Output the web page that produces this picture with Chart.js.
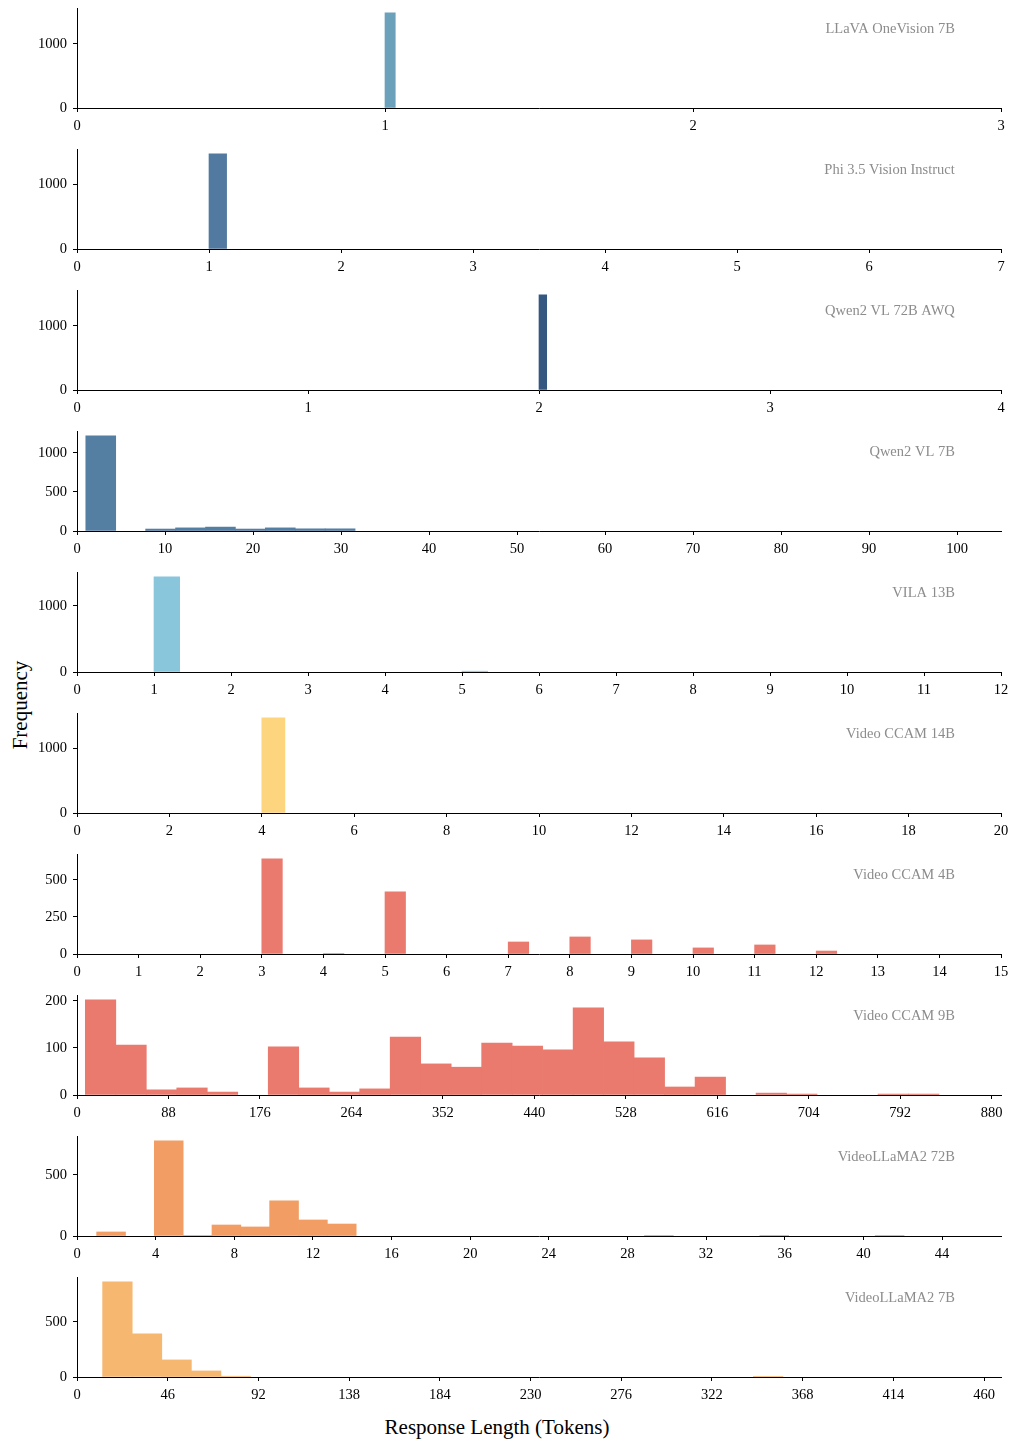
<!DOCTYPE html>
<html>
<head>
<meta charset="utf-8">
<script src="https://cdn.jsdelivr.net/npm/chart.js@4.4.1/dist/chart.umd.min.js"></script>
<style>
  body { margin: 0; background: #fff; width: 1014px; height: 1441px; position: relative; overflow: hidden;
         font-family: "Liberation Serif", "DejaVu Serif", serif; }
  canvas { position: absolute; left: 0; }
  #ylab { position: absolute; left: 20px; top: 705px; transform: translate(-50%, -50%) rotate(-90deg);
          font-size: 21px; white-space: nowrap; color: #000; }
  #xlab { position: absolute; left: 497px; top: 1427px; transform: translate(-50%, -50%);
          font-size: 21px; white-space: nowrap; color: #000; }
</style>
</head>
<body>
<div id="ylab">Frequency</div>
<div id="xlab">Response Length (Tokens)</div>
<script>
// model names, one panel each
const models = ['LLaVA OneVision 7B', 'Phi 3.5 Vision Instruct', 'Qwen2 VL 72B AWQ', 'Qwen2 VL 7B', 'VILA 13B',
                'Video CCAM 14B', 'Video CCAM 4B', 'Video CCAM 9B', 'VideoLLaMA2 72B', 'VideoLLaMA2 7B'];

// histogram bins: first edge and bin width for each model
const binStart = [0.5, 1, 1.5, 1, 1, 4, 3, 8, 1, 13];
const binWidth = [1/30, 4/30, 1/30, 3.4, 10/30, 0.5, 10/30, 880/30, 44/30, 15];

// counts per bin
const llavaOV7B  = [0,0,0,0,0,0,0,0,0,0,0,0,0,0,0,1484,0,0,0,0,0,0,0,0,0,0,0,0,0,0];
const phi35      = [1478,0,0,0,0,0,0,0,0,0,0,0,0,0,0,0,0,0,0,0,0,0,0,0,0,0,0,0,0,0];
const qwen72awq  = [0,0,0,0,0,0,0,0,0,0,0,0,0,0,0,1484,0,0,0,0,0,0,0,0,0,0,0,0,0,0];
const qwen7      = [1218,0,25,40,50,25,40,28,28,0];
const vila13     = [1440,0,0,0,0,0,0,0,0,0,0,0,12,0,0,0,0,0,0,0,0,0,0,0,0,0,0,0,0,0];
const ccam14     = [1476,0,0,0,0,0,0,0,0,0,0,0,0,0,0,0,0,0,0,0,0,0,0,0,0,0,0,0,0,0];
const ccam4      = [642,0,0,3,0,0,419,0,0,0,0,0,81,0,0,115,0,0,95,0,0,41,0,0,61,0,0,20,0,0];
const ccam9      = [202,106,11,15,6,0,102,15,6,13,123,66,59,110,104,96,185,113,79,17,38,0,4,2,0,0,2,2,0,0];
const vllama72   = [33,0,779,5,90,74,287,131,98,0,0,0,0,0,0,0,0,0,0,3,0,0,0,3,0,0,0,3,0,0];
const vllama7    = [864,391,155,55,7,0,0,0,0,0,0,0,0,0,0,0,0,0,0,0,0,0,3,0,0,0,0,0,0,0];
const counts = [llavaOV7B, phi35, qwen72awq, qwen7, vila13, ccam14, ccam4, ccam9, vllama72, vllama7];

// axis limits and tick steps
const xMax  = [3, 7, 4, 105, 12, 20, 15, 889, 47, 468.6];
const xStep = [1, 1, 1, 10, 1, 2, 1, 88, 4, 46];
const yStep = [1000, 1000, 1000, 500, 1000, 1000, 250, 100, 500, 500];

const colors = ['#6ba1ba', '#52799f', '#355880', '#557ea3', '#8ac6db',
                '#fed57f', '#ea7a6e', '#ea7a6e', '#f19d63', '#f6b870'];

const serif = '"Liberation Serif", "DejaVu Serif", serif';

const nameLabel = {
    id: 'nameLabel',
    afterDraw(chart, args, opts) {
        const { ctx, chartArea: a } = chart;
        ctx.save();
        ctx.font = '14.5px ' + serif;
        ctx.fillStyle = '#8c8c8c';
        ctx.textAlign = 'right';
        ctx.textBaseline = 'middle';
        ctx.fillText(opts.text, a.left + 0.95 * (a.right - a.left), a.top + 0.21 * (a.bottom - a.top));
        ctx.restore();
    }
};

function tickList(max, step) {
    let out = [];
    for (let k = 0; k * step <= max + 1e-9; k++) out.push(k * step);
    return out;
}

models.forEach((name, i) => {
    let canvas = document.createElement('canvas');
    canvas.width = 1014;
    canvas.height = 141;
    canvas.style.top = (i * 141) + 'px';
    document.body.appendChild(canvas);

    // empty bins stay in the data (they set the bar width) but are not drawn
    let points = counts[i].map((c, k) => ({ x: binStart[i] + (k + 0.5) * binWidth[i], y: c === 0 ? null : c }));
    let xt = tickList(xMax[i], xStep[i]);
    let yMax = Math.max(...counts[i]) * 1.05;
    let yt = tickList(yMax, yStep[i]);

    new Chart(canvas, {
        type: 'bar',
        data: {
            datasets: [{
                data: points,
                backgroundColor: colors[i],
                borderWidth: 0,
                barPercentage: 1,
                categoryPercentage: 1
            }]
        },
        options: {
            responsive: false,
            animation: false,
            devicePixelRatio: 1,
            layout: { padding: { left: 0, right: 13, top: 8, bottom: 0 } },
            plugins: {
                legend: { display: false },
                tooltip: { enabled: false },
                nameLabel: { text: name }
            },
            scales: {
                x: {
                    type: 'linear', min: 0, max: xMax[i], offset: false,
                    grid: { display: true, drawOnChartArea: false, offset: false, tickLength: 4, tickColor: '#000' },
                    border: { display: true, color: '#000', width: 1 },
                    ticks: { color: '#000', font: { family: serif, size: 14.5 }, padding: 5,
                             maxRotation: 0, autoSkip: false, callback: v => String(v) },
                    afterBuildTicks: s => { s.ticks = xt.map(v => ({ value: v })); },
                    afterFit: s => { s.height = 33; s.paddingLeft = 0; s.paddingRight = 0; }
                },
                y: {
                    min: 0, max: yMax,
                    grid: { display: true, drawOnChartArea: false, tickLength: 4, tickColor: '#000' },
                    border: { display: true, color: '#000', width: 1 },
                    ticks: { color: '#000', font: { family: serif, size: 14.5 }, padding: 6,
                             autoSkip: false, callback: v => String(v) },
                    afterBuildTicks: s => { s.ticks = yt.map(v => ({ value: v })); },
                    afterFit: s => { s.width = 77; s.paddingTop = 0; s.paddingBottom = 0; }
                }
            }
        },
        plugins: [nameLabel]
    });
});
</script>
</body>
</html>
